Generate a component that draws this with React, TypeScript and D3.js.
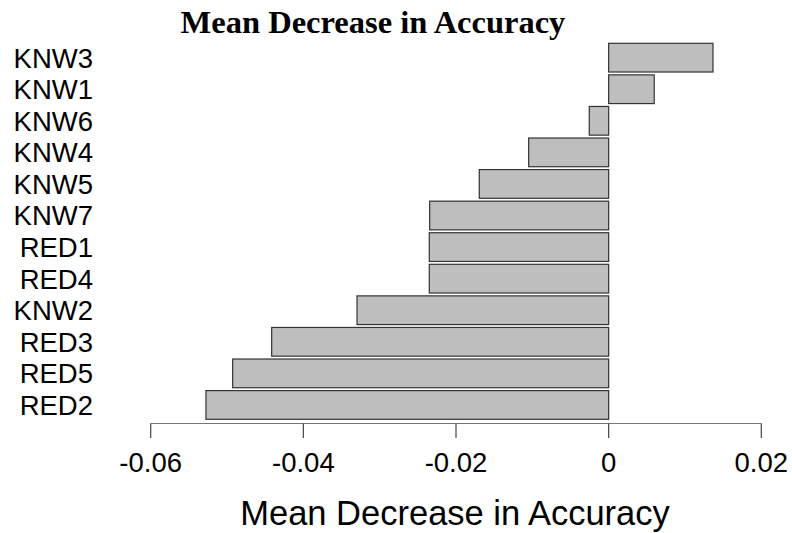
import React from "react";
import * as d3 from "d3";

const categories = ["KNW3", "KNW1", "KNW6", "KNW4", "KNW5", "KNW7", "RED1", "RED4", "KNW2", "RED3", "RED5", "RED2"];
const values = [0.01367, 0.00597, -0.00254, -0.01048, -0.01695, -0.02345, -0.0235, -0.0235, -0.03297, -0.04415, -0.04926, -0.05276];
const tickValues = [-0.06, -0.04, -0.02, 0, 0.02];
const tickLabels = ["-0.06", "-0.04", "-0.02", "0", "0.02"];
const title = "Mean Decrease in Accuracy";
const xTitle = "Mean Decrease in Accuracy";

export default function App() {
  const W = 792, H = 533;
  const x = d3.scaleLinear().domain([-0.06, 0.02]).range([150.7, 761.3]);
  const y = d3.scaleBand<string>().domain(categories).range([43.3, 419.3]).paddingInner(0.1 / 1.1).paddingOuter(0);
  const axisY = 423.5;
  const sans = "'Liberation Sans', Arial, sans-serif";
  return (
    <svg width={W} height={H} style={{ position: "absolute", left: 0, top: 0, background: "#fff" }}>
      <rect x={0} y={0} width={W} height={H} fill="#fff" />
      <text x={373} y={33} textAnchor="middle" fontFamily="'Liberation Serif', 'Times New Roman', serif" fontWeight="bold" fontSize={32.5}>{title}</text>
      {categories.map((c, i) => {
        const v = values[i];
        const x0 = x(Math.min(0, v));
        const x1 = x(Math.max(0, v));
        return (
          <g key={c}>
            <rect x={x0} y={y(c)!} width={x1 - x0} height={y.bandwidth()} fill="#bebebe" stroke="#333" strokeWidth={1.2} />
            <text x={93} y={y(c)! + y.bandwidth() / 2} dy="0.36em" textAnchor="end" fontFamily={sans} fontSize={27.5} fill="#000">{c}</text>
          </g>
        );
      })}
      <line x1={x(-0.06)} x2={x(0.02)} y1={axisY} y2={axisY} stroke="#777" strokeWidth={1.2} />
      {tickValues.map((t, i) => (
        <g key={t}>
          <line x1={x(t)} x2={x(t)} y1={axisY} y2={438} stroke="#444" strokeWidth={1.2} />
          <text x={x(t)} y={472} textAnchor="middle" fontFamily={sans} fontSize={27.5} fill="#000">{tickLabels[i]}</text>
        </g>
      ))}
      <text x={455} y={525} textAnchor="middle" fontFamily={sans} fontSize={34.5} fill="#000">{xTitle}</text>
    </svg>
  );
}
